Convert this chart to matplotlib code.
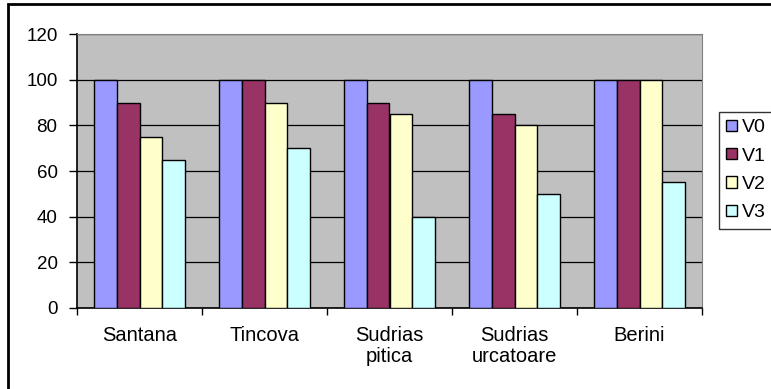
import matplotlib.pyplot as plt
import matplotlib.patches as mpatches
import numpy as np

plt.rcParams['font.family'] = ['Liberation Sans', 'DejaVu Sans']

# soiuri si variante
soiuri = ["Santana", "Tincova", "Sudrias\npitica", "Sudrias\nurcatoare", "Berini"]
serii = ["V0", "V1", "V2", "V3"]
v0 = [100, 100, 100, 100, 100]
v1 = [90, 100, 90, 85, 100]
v2 = [75, 90, 85, 80, 100]
v3 = [65, 70, 40, 50, 55]
culori = ["#9999FF", "#993366", "#FFFFCC", "#CCFFFF"]

fig = plt.figure(figsize=(7.71, 3.89), dpi=100)
ax = fig.add_axes([77 / 771, 1 - 308 / 389, (702 - 77) / 771, (308 - 34) / 389])
ax.set_facecolor("#C0C0C0")

x = np.arange(len(soiuri))
latime = 1 / 5.5
for i, (nume, vals) in enumerate(zip(serii, [v0, v1, v2, v3])):
    ax.bar(x + (i - 1.5) * latime, vals, latime, color=culori[i],
           edgecolor="black", linewidth=1, label=nume, zorder=3)

ax.set_xlim(-0.5, len(soiuri) - 0.5)
ax.set_ylim(0, 120)
ax.set_yticks(range(0, 121, 20))
ax.yaxis.grid(True, color="black", linewidth=0.9, zorder=0)
ax.tick_params(axis="y", direction="out", length=6, width=1, labelsize=13.5, pad=8)

# ticks intre categorii, etichete in centru
ax.set_xticks(np.arange(-0.5, len(soiuri), 1))
ax.set_xticklabels([])
ax.set_xticks(x, minor=True)
ax.set_xticklabels(soiuri, minor=True, fontsize=14.5, linespacing=1.15)
ax.tick_params(axis="x", which="major", direction="out", length=5, width=1)
ax.tick_params(axis="x", which="minor", length=0, pad=13)

for s in ["top", "right"]:
    ax.spines[s].set_color("#808080")
for s in ["left", "bottom"]:
    ax.spines[s].set_color("black")
    ax.spines[s].set_linewidth(1.2)

# chenarul graficului
fig.patches.append(mpatches.Rectangle((8 / 771, -0.05), 1.1, 1 - 4 / 389 + 0.05,
                                      transform=fig.transFigure, fill=False,
                                      edgecolor="black", linewidth=2))

leg = fig.legend(loc="upper left", bbox_to_anchor=(719 / 771, 1 - 112 / 389),
                 fontsize=14, frameon=True, fancybox=False, edgecolor="black",
                 handlelength=0.52, handleheight=0.52, handletextpad=0.3,
                 labelspacing=0.58, borderpad=0.38, borderaxespad=0)
leg.get_frame().set_linewidth(1)

fig.savefig("out.png", dpi=100)
